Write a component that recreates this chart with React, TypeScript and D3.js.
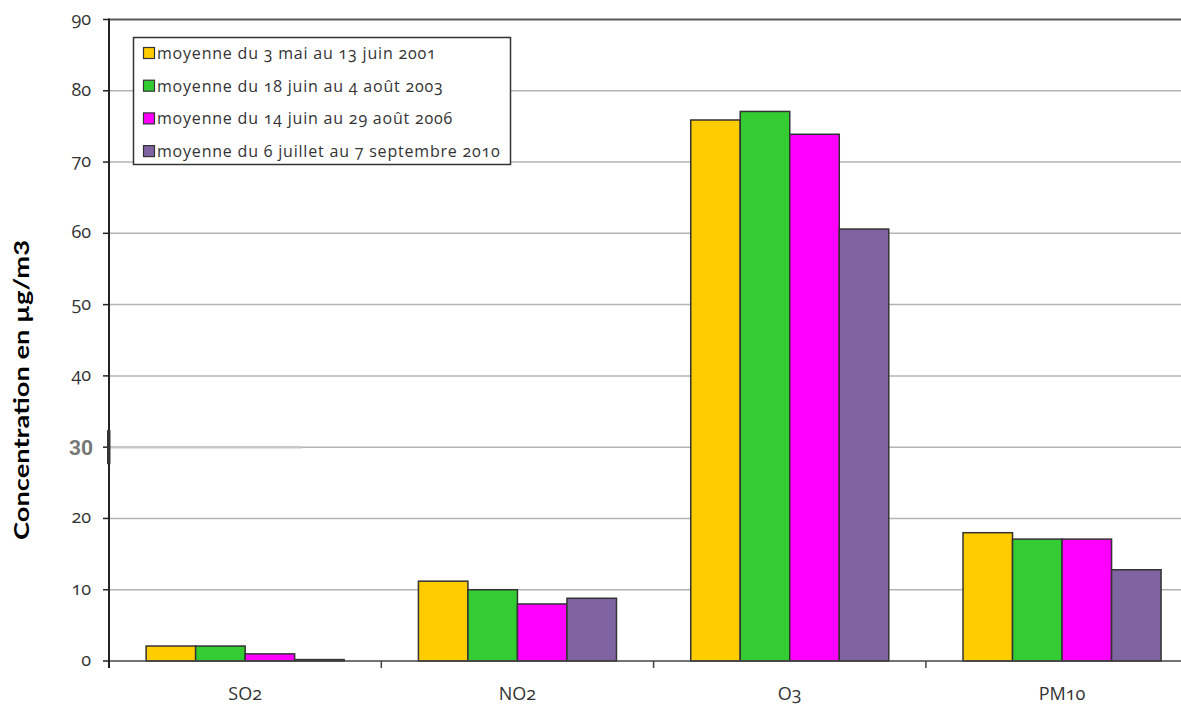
import React from "react";
import * as d3 from "d3";

const categories = ["SO2", "NO2", "O3", "PM10"];
const seriesNames = [
  "moyenne du 3 mai au 13 juin 2001",
  "moyenne du 18 juin au 4 août 2003",
  "moyenne du 14 juin au 29 août 2006",
  "moyenne du 6 juillet au 7 septembre 2010",
];
const seriesColors = ["#FFCC00", "#33CC33", "#FF00FF", "#8064A2"];
const values2001 = [2.1, 11.2, 75.9, 18.0];
const values2003 = [2.1, 10.0, 77.1, 17.1];
const values2006 = [1.0, 8.0, 73.9, 17.1];
const values2010 = [0.2, 8.8, 60.6, 12.8];
const seriesValues = [values2001, values2003, values2006, values2010];
const yTicks = [0, 10, 20, 30, 40, 50, 60, 70, 80, 90];

const W = 1181;
const H = 704;
const left = 109;
const top = 19.5;
const bottom = 661;
const step = 272.3;

export default function App() {
  const y = d3.scaleLinear().domain([0, 90]).range([bottom, top]);
  const x0 = d3
    .scaleBand<string>()
    .domain(categories)
    .range([left, left + step * categories.length])
    .paddingInner(0)
    .paddingOuter(0);
  const x1 = d3
    .scaleBand<string>()
    .domain(seriesNames)
    .range([0, x0.bandwidth()])
    .paddingInner(0)
    .paddingOuter(0.75);

  const font = "'Open Sans', sans-serif";

  return (
    <svg
      width={W}
      height={H}
      style={{ position: "absolute", left: 0, top: 0, background: "#fff" }}
    >
      {/* gridlines */}
      {yTicks.map((t) =>
        t === 0 || t === 90 ? null : (
          <line
            key={"g" + t}
            x1={left}
            x2={W}
            y1={y(t)}
            y2={y(t)}
            stroke="#b4b4b4"
            strokeWidth={1.5}
          />
        )
      )}
      {/* special thicker segment at 30 */}
      <line x1={left} x2={302} y1={y(30)} y2={y(30)} stroke="#c8c8c8" strokeWidth={2.5} />
      {/* top line at 90 */}
      <line x1={left} x2={W} y1={y(90)} y2={y(90)} stroke="#5a5a5a" strokeWidth={2} />

      {/* bars */}
      {categories.map((c, ci) => (
        <g key={c} transform={`translate(${x0(c)},0)`}>
          {seriesNames.map((s, si) => {
            const v = seriesValues[si][ci];
            return (
              <rect
                key={s}
                x={x1(s)}
                y={y(v)}
                width={x1.bandwidth()}
                height={bottom - y(v)}
                fill={seriesColors[si]}
                stroke="#333"
                strokeWidth={1.5}
              />
            );
          })}
        </g>
      ))}

      {/* x axis */}
      <line x1={left} x2={W} y1={bottom} y2={bottom} stroke="#444" strokeWidth={1.5} />
      {categories.slice(1).map((c) => (
        <line
          key={"xt" + c}
          x1={x0(c)}
          x2={x0(c)}
          y1={bottom}
          y2={bottom + 7}
          stroke="#444"
          strokeWidth={1.5}
        />
      ))}
      {categories.map((c) => (
        <text
          key={"xl" + c}
          x={(x0(c) as number) + x0.bandwidth() / 2}
          y={700}
          textAnchor="middle"
          fontFamily={font}
          fontSize={18}
          fill="#333"
          style={{ fontVariantNumeric: "oldstyle-nums" }}
        >
          {c}
        </text>
      ))}

      {/* y axis */}
      <line x1={left} x2={left} y1={top - 1} y2={bottom + 7} stroke="#222" strokeWidth={2} />
      {yTicks.map((t) => (
        <line
          key={"yt" + t}
          x1={left - 6}
          x2={left}
          y1={y(t)}
          y2={y(t)}
          stroke="#222"
          strokeWidth={1.5}
        />
      ))}
      {yTicks.map((t) =>
        t === 30 ? (
          <g key={"yl" + t}>
            <rect x={left - 2} y={y(30) - 17} width={3.5} height={34} fill="#333" />
            <text
              x={93}
              y={y(30) + 8}
              textAnchor="end"
              fontFamily="Roboto, sans-serif"
              fontWeight={700}
              fontSize={21}
              fill="#777"
            >
              30
            </text>
          </g>
        ) : (
          <text
            key={"yl" + t}
            x={91}
            y={y(t) + 5}
            textAnchor="end"
            fontFamily={font}
            fontSize={18}
            fill="#333"
            style={{ fontVariantNumeric: "oldstyle-nums" }}
          >
            {t}
          </text>
        )
      )}

      {/* y axis title */}
      <text
        transform={`translate(29,390) rotate(-90)`}
        textAnchor="middle"
        fontFamily="Lato, sans-serif"
        fontWeight={700}
        fontSize={20}
        fill="#000"
        textLength={300}
        lengthAdjust="spacingAndGlyphs"
      >
        Concentration  en µg/m3
      </text>

      {/* legend */}
      <rect x={133.5} y={37.5} width={377} height={127} fill="#fff" stroke="#333" strokeWidth={1.5} />
      {seriesNames.map((s, i) => (
        <g key={"lg" + s} transform={`translate(0,${53 + i * 32.7})`}>
          <rect x={143.5} y={-5.5} width={11} height={11} fill={seriesColors[i]} stroke="#333" strokeWidth={1.2} />
          <text
            x={157}
            y={6}
            fontFamily={font}
            fontSize={16}
            letterSpacing={0.8}
            fill="#333"
            style={{ fontVariantNumeric: "oldstyle-nums" }}
          >
            {s}
          </text>
        </g>
      ))}
    </svg>
  );
}
